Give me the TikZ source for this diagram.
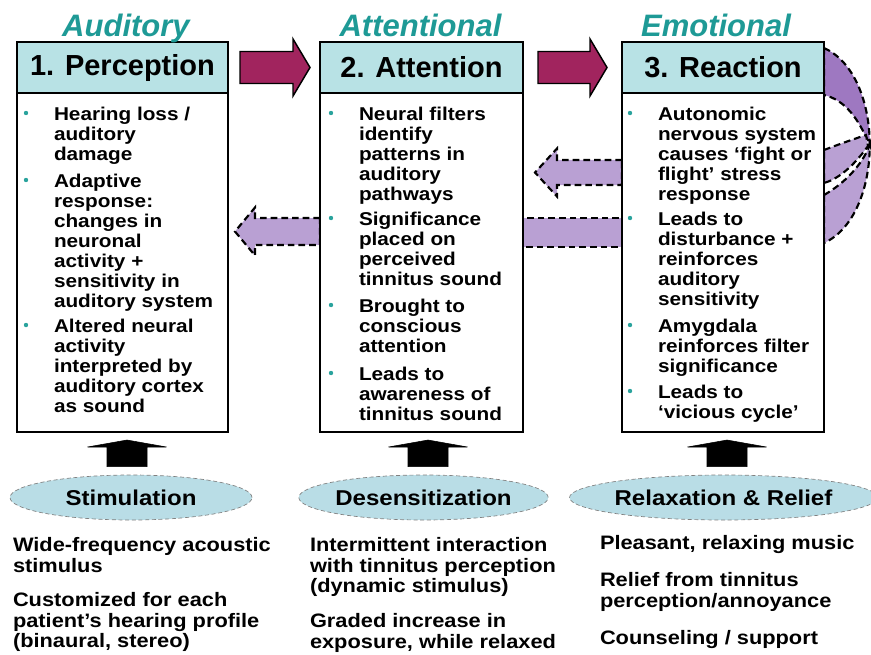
\documentclass[tikz,border=0pt]{standalone}
\usepackage{fontspec}
\setmainfont{Liberation Sans}
\newfontfamily\bodyfont{Liberation Sans}[FakeStretch=1.12]
\usepackage{tikz}
\usetikzlibrary{positioning, calc, shapes.geometric, backgrounds}
\definecolor{stageteal}{HTML}{1E9A96}
\definecolor{headfill}{HTML}{B8E2E5}
\definecolor{ovalfill}{HTML}{B9DDE6}
\definecolor{fwdmag}{HTML}{A1245E}
\definecolor{lilac}{HTML}{B9A0D3}
\definecolor{lilacd}{HTML}{9E78C1}
\definecolor{bulteal}{HTML}{2AA39D}
\newcommand{\lstrut}{\rule{0pt}{11pt}}
% fat horizontal arrow: style, from, to, half shaft, half head, head length
\newcommand{\harrow}[6]{%
  \draw[#1] let \p1=(#2), \p2=(#3), \n1={ifthenelse(\x2>\x1,1,-1)} in
    (\x1,{\y1+#4}) -- ({\x2-(\n1)*#6},{\y1+#4}) -- ({\x2-(\n1)*#6},{\y1+#5})
    -- (\x2,\y1) -- ({\x2-(\n1)*#6},{\y1-#5}) -- ({\x2-(\n1)*#6},{\y1-#4})
    -- (\x1,{\y1-#4}) -- cycle;}
% fat vertical arrow
\newcommand{\varrow}[6]{%
  \draw[#1] let \p1=(#2), \p2=(#3), \n1={ifthenelse(\y2>\y1,1,-1)} in
    ({\x1+#4},\y1) -- ({\x1+#4},{\y2-(\n1)*#6}) -- ({\x1+#5},{\y2-(\n1)*#6})
    -- (\x1,\y2) -- ({\x1-#5},{\y2-(\n1)*#6}) -- ({\x1-#4},{\y2-(\n1)*#6})
    -- ({\x1-#4},\y1) -- cycle;}
\tikzset{
  headbox/.style={draw=black, fill=headfill, line width=2.2pt, minimum height=38.25pt,
    inner sep=0pt, outer sep=0pt, font=\bfseries\fontsize{21.75}{24}\selectfont},
  bodybox/.style={draw=black, fill=white, line width=2.2pt, minimum height=254.25pt,
    inner sep=0pt, outer sep=0pt},
  stage/.style={text=stageteal, inner sep=0pt, font=\bfseries\itshape\fontsize{23.25}{26}\selectfont},
  itm/.style={anchor=north west, inner sep=0pt, outer sep=0pt, align=left,
    font=\bodyfont\bfseries\fontsize{13.9}{15}\selectfont},
  note/.style={anchor=north west, inner sep=0pt, outer sep=0pt, align=left,
    font=\bodyfont\bfseries\fontsize{14.6}{15.4}\selectfont},
  oval/.style={ellipse, draw=gray, densely dashed, line width=0.5pt, fill=ovalfill,
    minimum height=33.75pt, inner sep=0pt, font=\bodyfont\bfseries\fontsize{16.1}{18}\selectfont},
  fwd/.style={draw=black, fill=fwdmag, line width=1.1pt, line join=miter},
  back/.style={draw=black, fill=lilac, dash pattern=on 5pt off 3pt, line width=1.6pt},
  backd/.style={back, fill=lilacd},
  upblk/.style={fill=black}
}
\begin{document}
\begin{tikzpicture}[x=0.75pt, y=-0.75pt]
\useasboundingbox (0,0) rectangle (871,654);
% three stages
\node[headbox, minimum width=158.25pt] (perc) at (122.5,67.5) {1. Perception};
\node[bodybox, minimum width=158.25pt, below=0pt of perc] (percb) {};
\node[headbox, minimum width=152.25pt] (attn) at (421.5,67.5) {2. Attention};
\node[bodybox, minimum width=152.25pt, below=0pt of attn] (attnb) {};
\node[headbox, minimum width=151.5pt] (reac) at (723,67.5) {3. Reaction};
\node[bodybox, minimum width=151.5pt, below=0pt of reac] (reacb) {};
\node[stage, anchor=base] (audl) at ([xshift=2.6pt, yshift=4.5pt]perc.north) {Auditory};
\node[stage, anchor=base] (attl) at ([xshift=-0.75pt, yshift=4.5pt]attn.north) {Attentional};
\node[stage, anchor=base] (emol) at ([xshift=-5.25pt, yshift=4.5pt]reac.north) {Emotional};
% bullet texts
\node[itm] (p1) at (54,106.3) {\lstrut Hearing loss /\\auditory\\damage};
\node[itm] (p2) at (54,173.3) {\lstrut Adaptive\\response:\\changes in\\neuronal\\activity +\\sensitivity in\\auditory system};
\node[itm] (p3) at (54,318.3) {\lstrut Altered neural\\activity\\interpreted by\\auditory cortex\\as sound};
\node[itm] (a1) at (359,106.3) {\lstrut Neural filters\\identify\\patterns in\\auditory\\pathways};
\node[itm] (a2) at (359,211.3) {\lstrut Significance\\placed on\\perceived\\tinnitus sound};
\node[itm] (a3) at (359,298.3) {\lstrut Brought to\\conscious\\attention};
\node[itm] (a4) at (359,366.3) {\lstrut Leads to\\awareness of\\tinnitus sound};
\node[itm] (r1) at (658,106.3) {\lstrut Autonomic\\nervous system\\causes ‘fight or\\flight’ stress\\response};
\node[itm] (r2) at (658,211.3) {\lstrut Leads to\\disturbance +\\reinforces\\auditory\\sensitivity};
\node[itm] (r3) at (658,318.3) {\lstrut Amygdala\\reinforces filter\\significance};
\node[itm] (r4) at (658,384.3) {\lstrut Leads to\\‘vicious cycle’};
\foreach \n in {p1,p2,p3,a1,a2,a3,a4,r1,r2,r3,r4}
  \fill[bulteal] ($(\n.north west)+(-28,6.7)$) circle (2.2);
% therapy ovals
\node[oval, minimum width=181.5pt] (stim) at (131,497.5) {Stimulation};
\node[oval, minimum width=182.25pt] (desens) at (423.5,497.5) {Desensitization};
\node[oval, minimum width=200.25pt] (relax) at (723.5,497.5) {Relaxation \& Relief};
\node[note] (s1) at (13,536.8) {\lstrut Wide-frequency acoustic\\stimulus};
\node[note] (s2) at (13,591.8) {\lstrut Customized for each\\patient’s hearing profile\\(binaural, stereo)};
\node[note] (d1) at (310,536.8) {\lstrut Intermittent interaction\\with tinnitus perception\\(dynamic stimulus)};
\node[note] (d2) at (310,613.3) {\lstrut Graded increase in\\exposure, while relaxed};
\node[note] (x1) at (600,534.8) {\lstrut Pleasant, relaxing music};
\node[note] (x2) at (600,571.8) {\lstrut Relief from tinnitus\\perception/annoyance};
\node[note] (x3) at (600,629.8) {\lstrut Counseling / support};
% forward arrows
\coordinate (m1s) at ([xshift=9pt]perc.east);
\coordinate (m1e) at ([xshift=-7.5pt]attn.west);
\coordinate (m2s) at ([xshift=11.25pt]attn.east);
\coordinate (m2e) at ([xshift=-11.25pt]reac.west);
\harrow{fwd}{m1s}{m1e}{12pt}{21.4pt}{12.75pt}
\harrow{fwd}{m2s}{m2e}{12pt}{21.4pt}{12.75pt}
% up arrows from ovals
\coordinate (u1) at ($(stim.north)+(-4,-8)$);
\coordinate (u1t) at ($(u1 |- percb.south)+(0,8)$);
\coordinate (u2) at ($(desens.north)+(4.5,-8)$);
\coordinate (u2t) at ($(u2 |- attnb.south)+(0,8)$);
\coordinate (u3) at ($(relax.north)+(3.5,-8)$);
\coordinate (u3t) at ($(u3 |- reacb.south)+(0,8)$);
\varrow{upblk}{u1}{u1t}{15pt}{29.6pt}{5.25pt}
\varrow{upblk}{u2}{u2t}{15pt}{29.6pt}{5.25pt}
\varrow{upblk}{u3}{u3t}{15pt}{29.6pt}{5.25pt}
% feedback, behind the boxes
\begin{scope}[on background layer]
\fill[white] (0,0) rectangle (871,654);
\draw[backd] (824,48) .. controls (854.5,61.5) and (869.75,103.25) .. (869.75,145)
  .. controls (858,118) and (845,100) .. (824,95) -- cycle;
\draw[back] (824,150) .. controls (845,142) and (860,137) .. (866,135) -- (868,146)
  .. controls (858,160) and (842,178) .. (824,183) -- cycle;
\draw[back] (824,195) .. controls (845,183) and (862,165) .. (869.75,145)
  .. controls (869.75,187) and (854.5,229) .. (824,243) -- cycle;
\coordinate (tailA) at ([yshift=23.25pt]attnb.west);
\coordinate (tipA) at ([yshift=23.25pt, xshift=5.25pt]percb.east);
\coordinate (tailB) at ([yshift=67.5pt]reacb.west);
\coordinate (tipB) at ([yshift=67.5pt, xshift=9pt]attnb.east);
\harrow{back}{tailA}{tipA}{10.1pt}{18pt}{15pt}
\harrow{back}{tailB}{tipB}{9.4pt}{18pt}{16.5pt}
\draw[back] ([yshift=33.375pt]attnb.east) rectangle ([yshift=11.625pt]reacb.west);
\end{scope}
\end{tikzpicture}
\end{document}
